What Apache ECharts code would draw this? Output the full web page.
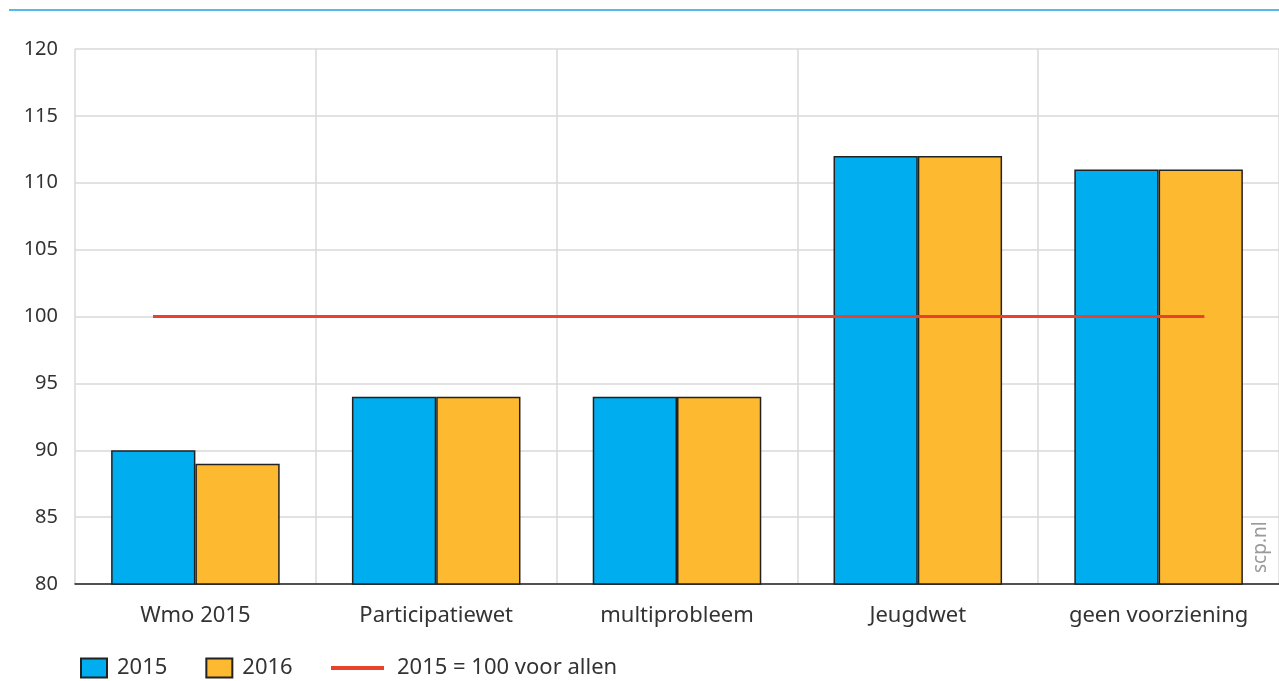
<!DOCTYPE html>
<html>
<head>
<meta charset="utf-8">
<script src="https://cdn.jsdelivr.net/npm/echarts@6/dist/echarts.min.js"></script>
<style>
html,body{margin:0;padding:0;background:#fff;}
#chart{width:1279px;height:681px;}
</style>
</head>
<body>
<div id="chart"></div>
<script>
const categories = ["Wmo 2015", "Participatiewet", "multiprobleem", "Jeugdwet", "geen voorziening"];
const values2015 = [90, 94, 94, 112, 111];
const values2016 = [89, 94, 94, 112, 111];
const refLabel = "2015 = 100 voor allen";
const refValue = 100;
const refSpan = [-0.176, 4.19]; // from first blue bar centre to last orange bar centre (category index units)
const yTicks = [80, 85, 90, 95, 100, 105, 110, 115, 120];

const FONT = "Noto Sans";
const chart = echarts.init(document.getElementById('chart'));
chart.setOption({
  animation: false,
  textStyle: { fontFamily: FONT },
  graphic: [
    { type: 'line', shape: { x1: 9, y1: 10, x2: 1279, y2: 10 }, style: { stroke: '#1BA3E6', lineWidth: 1.5 } },
    { type: 'text', x: 1261, y: 573, rotation: Math.PI / 2,
      style: { text: 'scp.nl', fill: '#9a9a9a', font: '19px "Noto Sans"', textAlign: 'left', textVerticalAlign: 'middle' } }
  ],
  grid: { left: 75, right: 0, top: 49, bottom: 97, containLabel: false },
  legend: [
    { data: ['2015', '2016'], left: 75, top: 652, itemWidth: 26, itemHeight: 19, itemGap: 38, icon: 'rect',
      textStyle: { fontSize: 22, color: '#333', fontFamily: FONT, padding: [0, 0, 0, 5] } },
    { data: [refLabel], left: 326, top: 652, itemWidth: 53, itemHeight: 4, icon: 'rect',
      textStyle: { fontSize: 22, color: '#333', fontFamily: FONT, padding: [0, 0, 0, 8] } }
  ],
  xAxis: [
    { type: 'category', data: categories,
      axisLine: { lineStyle: { color: '#222', width: 1.5 } },
      axisTick: { alignWithLabel: true, length: 11, lineStyle: { color: '#222', width: 1.5 } },
      axisLabel: { fontSize: 22, color: '#333', margin: 21, fontFamily: FONT },
      splitLine: { show: true, lineStyle: { color: '#d9d9d9', width: 1.5 } } },
    { type: 'value', min: -0.5, max: 4.5, show: false }
  ],
  yAxis: {
    type: 'value', min: yTicks[0], max: yTicks[yTicks.length - 1], interval: 5,
    axisLine: { show: false }, axisTick: { show: false },
    axisLabel: { fontSize: 20, color: '#333', margin: 17, fontFamily: FONT },
    splitLine: { lineStyle: { color: '#d9d9d9', width: 1.5 } }
  },
  series: [
    { name: '2015', type: 'bar', data: values2015, barGap: '0%', barCategoryGap: '30%',
      itemStyle: { color: '#00ADEE', borderColor: '#222', borderWidth: 1.5 } },
    { name: '2016', type: 'bar', data: values2016,
      itemStyle: { color: '#FDB92F', borderColor: '#222', borderWidth: 1.5 } },
    { name: refLabel, type: 'line', xAxisIndex: 1, symbol: 'none',
      data: [[refSpan[0], refValue], [refSpan[1], refValue]],
      lineStyle: { color: '#E8412C', width: 3 }, itemStyle: { color: '#E8412C' }, z: 5 }
  ]
});
</script>
</body>
</html>
